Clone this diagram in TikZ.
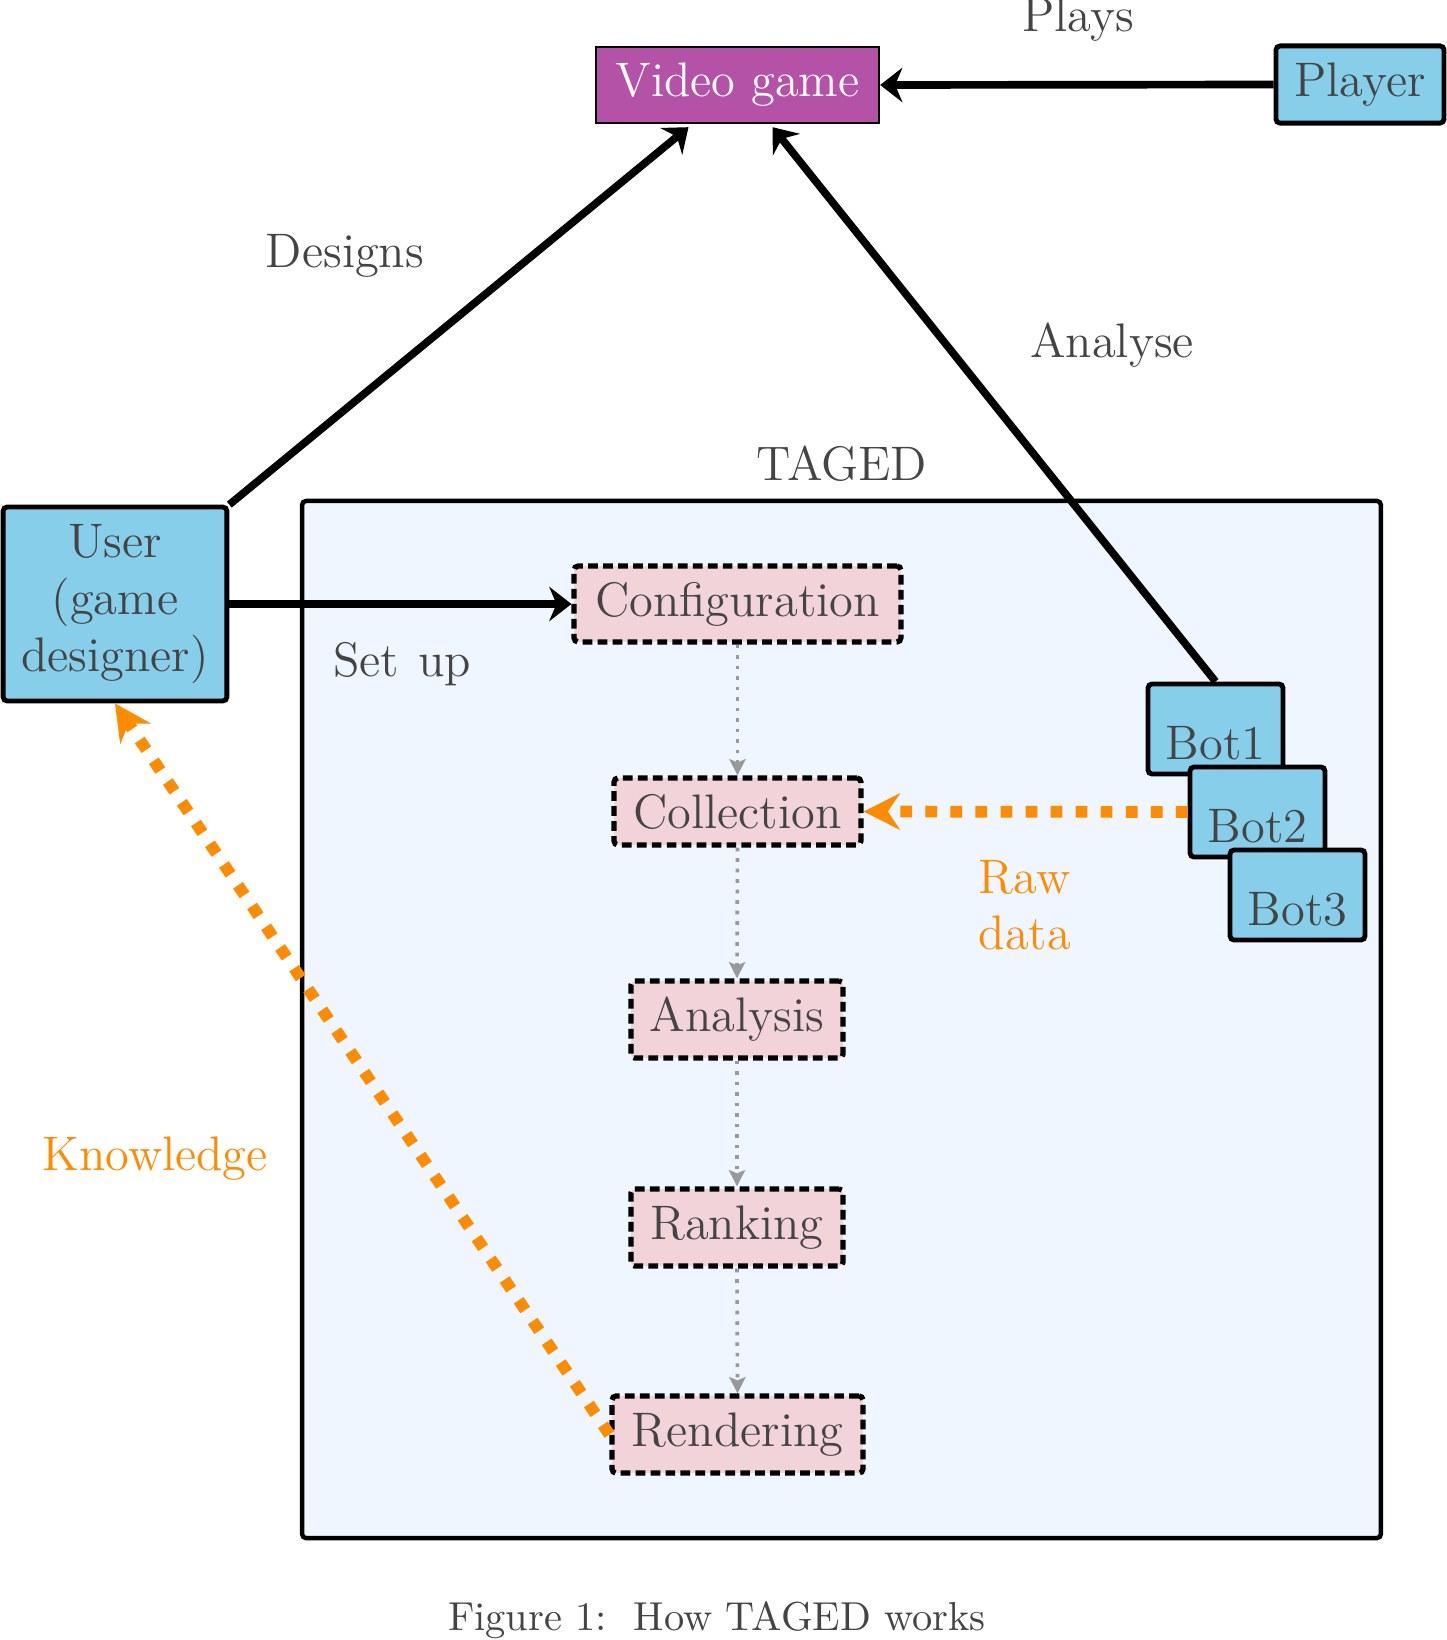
\documentclass[tikz,border=0pt]{standalone}
\usetikzlibrary{arrows.meta,calc}
\definecolor{txt}{HTML}{444444}
\definecolor{vgfill}{RGB}{180,82,168}
\definecolor{bluefill}{RGB}{135,206,235}
\definecolor{tagedfill}{RGB}{240,246,255}
\definecolor{stepfill}{RGB}{242,211,218}
\definecolor{orng}{RGB}{255,140,0}
\begin{document}
\begin{tikzpicture}[x=0.2475pt,y=-0.2475pt,font=\large,text=txt,
  bluebox/.style={draw,line width=1.2pt,fill=bluefill,rounded corners=1pt,inner sep=0pt},
  botbox/.style={bluebox,minimum width=33.4pt,minimum height=22.3pt,text height=15pt,text depth=0pt},
  stepbox/.style={draw,fill=stepfill,line width=1.3pt,dash pattern=on 2.4pt off 1.3pt,inner sep=0pt,rounded corners=1pt,minimum height=18.8pt},
  blackarrow/.style={line width=1.9pt,-{Stealth[length=5.5pt,width=8.5pt,inset=1.8pt]}},
  orangearrow/.style={orng,line width=2.9pt,dash pattern=on 2.9pt off 3.3pt,-{Stealth[length=9pt,width=9pt,inset=3pt,sep=0pt]}},
  grayarrow/.style={gray!80,line width=0.9pt,dash pattern=on 0.9pt off 1.7pt,-{Stealth[length=4pt,width=4pt,inset=0.8pt]}},
  lbl/.style={inner sep=0pt}]
\useasboundingbox (0,0) rectangle (1447,1640);

% TAGED frame
\node[draw,line width=1.1pt,fill=tagedfill,rounded corners=1pt,minimum width=267pt,minimum height=256.7pt,inner sep=0pt] (taged) at (841.5,1019.5) {};
\node[lbl] (tagedlbl) at (842,464) {TAGED};

% top nodes
\node[draw,line width=0.6pt,fill=vgfill,text=white,minimum width=70pt,minimum height=18.8pt,inner sep=0pt] (vg) at (737.5,85) {Video game};
\node[bluebox,minimum width=41.6pt,minimum height=19.1pt] (player) at (1360,84.5) {Player};
\node[bluebox,minimum width=55.4pt,minimum height=48pt,align=center] (user) at (115,604) {User\\(game\\designer)};

% steps
\node[stepbox,minimum width=80.9pt] (config) at (737.5,604) {Configuration};
\node[stepbox,minimum width=61.1pt,minimum height=16.6pt] (collect) at (737.5,811.5) {Collection};
\node[stepbox,minimum width=52.5pt,minimum height=19.1pt] (analysis) at (737,1019.5) {Analysis};
\node[stepbox,minimum width=52.5pt,minimum height=19.1pt] (ranking) at (737,1227.5) {Ranking};
\node[stepbox,minimum width=62.1pt,minimum height=19.1pt] (render) at (737.5,1434.5) {Rendering};

% bots
\node[botbox] (bot1) at (1215.5,729) {Bot1};
\node[botbox] (bot2) at (1257.5,812) {Bot2};
\node[botbox] (bot3) at (1297.5,895) {Bot3};

% labels
\node[lbl] (plays) at (1078,20) {Plays};
\node[lbl] (designs) at (345,256) {Designs};
\node[lbl] (analyse) at (1112,345) {Analyse};
\node[lbl] (setup) at (402,664) {Set\hspace{4.7pt}up};
\node[lbl,text=orng,align=left] (rawdata) at (1025,905) {Raw\\data};
\node[lbl,text=orng] (knowledge) at (155,1159) {Knowledge};
\node[lbl,font=\normalsize] (caption) at (717,1620) {Figure 1:\ \ How TAGED works};

% connectors
\draw[blackarrow] (player.west) -- (vg.east);
\draw[blackarrow] (user.north east) -- ($(vg.south)+(-49,3)$);
\draw[blackarrow] (bot1.north) -- ($(vg.south)+(35,3)$);
\draw[blackarrow] (user.east) -- (config.west);
\draw[grayarrow] (config.south) -- (collect.north);
\draw[grayarrow] (collect.south) -- (analysis.north);
\draw[grayarrow] (analysis.south) -- (ranking.north);
\draw[grayarrow] (ranking.south) -- (render.north);
\draw[orangearrow] (bot2.west) -- (collect.east);
\draw[orangearrow] (render.west) -- (user.south);
\end{tikzpicture}
\end{document}
